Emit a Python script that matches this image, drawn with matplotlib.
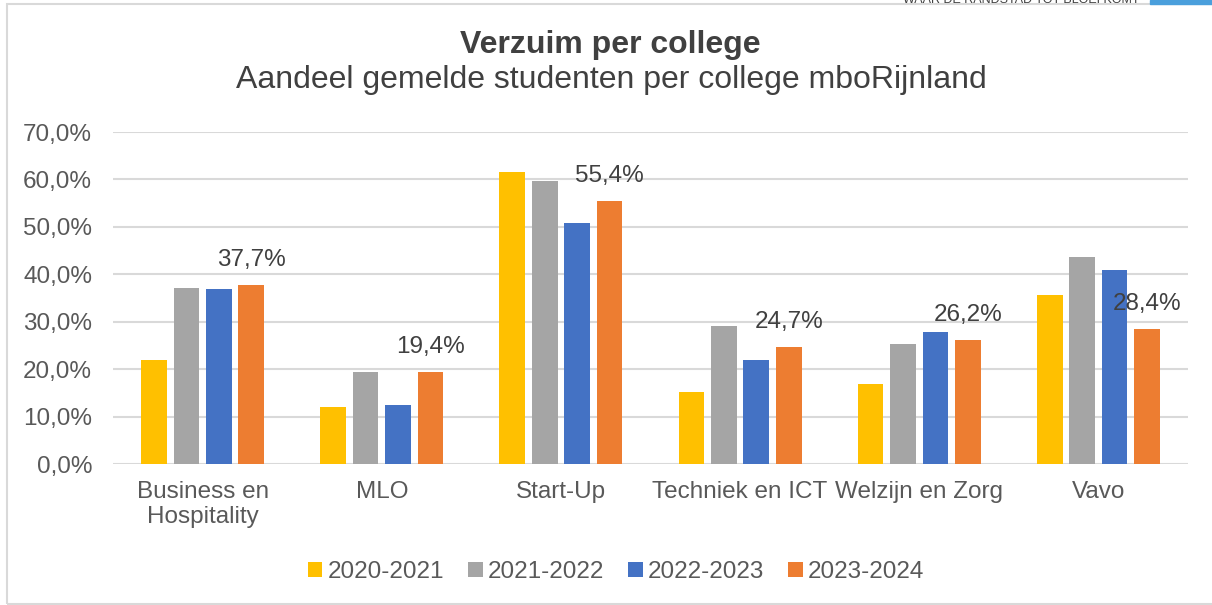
import matplotlib.pyplot as plt
import numpy as np
from matplotlib.patches import Rectangle

colleges = ["Business en\nHospitality", "MLO", "Start-Up", "Techniek en ICT",
            "Welzijn en Zorg", "Vavo"]
years = ["2020-2021", "2021-2022", "2022-2023", "2023-2024"]
v2020 = [21.9, 12.1, 61.6, 15.1, 16.8, 35.6]
v2021 = [37.2, 19.4, 59.6, 29.1, 25.2, 43.7]
v2022 = [36.8, 12.4, 50.8, 21.9, 27.8, 41.0]
v2023 = [37.7, 19.4, 55.4, 24.7, 26.2, 28.4]
series = [v2020, v2021, v2022, v2023]
colors = ["#FFC000", "#A5A5A5", "#4472C4", "#ED7D31"]

plt.rcParams['font.family'] = ['Liberation Sans', 'DejaVu Sans']
W, H = 1212, 605
fig = plt.figure(figsize=(W/100, H/100), dpi=100)
ax = fig.add_axes([113/W, 1-464/H, (1188-113)/W, (464-132)/H])

# chart frame and cut-off header
fig.patches.append(Rectangle((7/W, 0.002), 1.0, 1-4/H-0.002, transform=fig.transFigure,
                             fill=False, ec='#D9D9D9', lw=1.5))
fig.patches.append(Rectangle((1150/W, 1-4/H), 1.0, 4/H, transform=fig.transFigure,
                             color='#4A9FDC'))
fig.text(1021/W, 1-3/H, "WAAR DE RANDSTAD TOT BLOEI KOMT", ha='center', va='baseline',
         fontsize=9, color='#404040')

x = np.arange(len(colleges))
step = 0.181
width = 0.143
for i, (vals, c, lab) in enumerate(zip(series, colors, years)):
    pos = x + (i - 1.5)*step
    ax.bar(pos, vals, width, color=c, label=lab, zorder=3)
    if i == 3:
        for px, v in zip(pos, vals):
            ax.annotate(("%.1f%%" % v).replace('.', ','), (px, v), xytext=(0, 18),
                        textcoords='offset points', ha='center', va='center',
                        fontsize=17.5, color='#404040', zorder=4)

ax.set_xlim(-0.5, 5.5)
ax.set_ylim(0, 70)
ax.set_yticks(np.arange(0, 71, 10))
ax.set_yticklabels([("%.1f%%" % t).replace('.', ',') for t in np.arange(0, 71, 10)])
ax.set_xticks(x)
ax.set_xticklabels(colleges)
ax.grid(axis='y', color='#D9D9D9', linewidth=1.5, zorder=0)
for s in ax.spines.values():
    s.set_visible(False)
ax.tick_params(axis='both', length=0, labelsize=17.5, labelcolor='#595959')
ax.tick_params(axis='y', pad=15)
ax.tick_params(axis='x', pad=12)

fig.text(610/W, 1-45/H, "Verzuim per college", ha='center', va='center',
         fontsize=23, fontweight='bold', color='#404040')
fig.text(611/W, 1-80/H, "Aandeel gemelde studenten per college mboRijnland", ha='center',
         va='center', fontsize=23, color='#404040')

fig.legend(loc='center', bbox_to_anchor=(616/W, 1-572/H), ncol=4, frameon=False,
           fontsize=17.5, labelcolor='#595959', handlelength=0.6, handleheight=0.6,
           handletextpad=0.2, columnspacing=1.0)

fig.savefig("out.png", dpi=100)
